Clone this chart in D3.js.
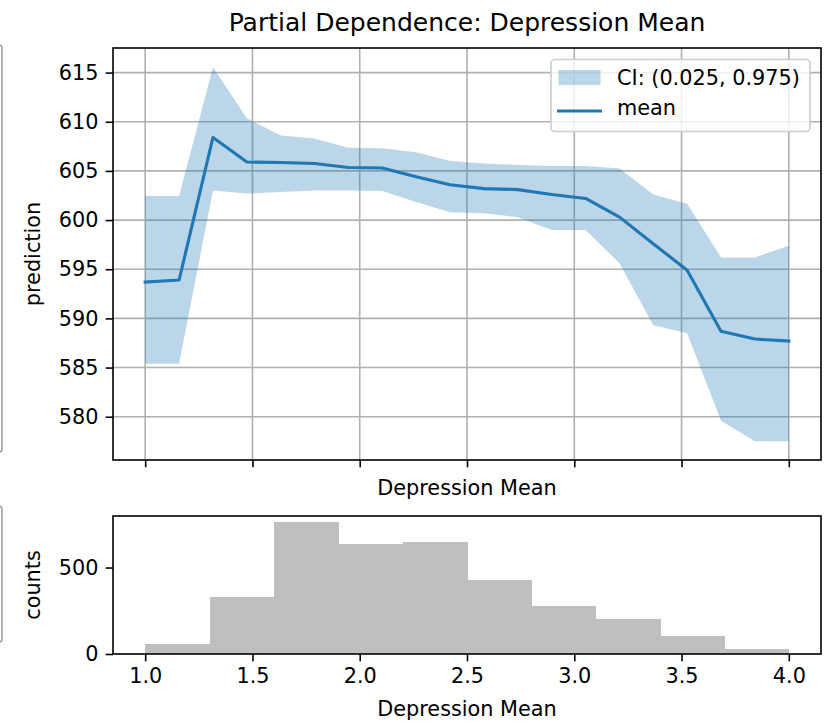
<!DOCTYPE html>
<html>
<head>
<meta charset="utf-8">
<script src="https://cdn.jsdelivr.net/npm/d3@7"></script>
<style>
  html, body { margin: 0; padding: 0; background: #fff; }
  svg { display: block; font-family: "DejaVu Sans", sans-serif; }
</style>
</head>
<body>
<svg id="chart" width="836" height="722"></svg>
<script>
// ---- data ----
const gridX = [1.0, 1.158, 1.316, 1.474, 1.632, 1.789, 1.947, 2.105, 2.263, 2.421,
               2.579, 2.737, 2.895, 3.053, 3.211, 3.368, 3.526, 3.684, 3.842, 4.0];
const meanVals = [593.7, 593.9, 608.4, 605.9, 605.85, 605.75, 605.35, 605.3, 604.4, 603.6,
                  603.2, 603.1, 602.6, 602.2, 600.3, 597.6, 594.9, 588.7, 587.9, 587.7];
const upperVals = [602.45, 602.45, 615.55, 610.35, 608.6, 608.3, 607.35, 607.3, 606.9, 606.0,
                   605.75, 605.6, 605.5, 605.5, 605.25, 602.6, 601.65, 596.2, 596.2, 597.4];
const lowerVals = [585.4, 585.4, 603.0, 602.7, 602.85, 603.0, 603.0, 602.95, 601.85, 600.8,
                   600.7, 600.3, 599.0, 599.0, 595.6, 589.3, 588.5, 579.6, 577.5, 577.5];
const binEdges = [1.0, 1.3, 1.6, 1.9, 2.2, 2.5, 2.8, 3.1, 3.4, 3.7, 4.0];
const binCounts = [56, 327, 761, 636, 648, 429, 275, 200, 106, 27];
const xTicks = [1.0, 1.5, 2.0, 2.5, 3.0, 3.5, 4.0];
const yTicksTop = [580, 585, 590, 595, 600, 605, 610, 615];
const yTicksHist = [0, 500];
const titleText = "Partial Dependence: Depression Mean";
const xLabelText = "Depression Mean";
const legendLabels = ["CI: (0.025, 0.975)", "mean"];

// ---- layout ----
const svg = d3.select("#chart");
const L = 113, R = 821;
const topT = 48, topB = 460;
const hT = 516, hB = 654;
const fs = 20.8;
const blue = "#1f77b4";

const x = d3.scaleLinear().domain([0.85, 4.15]).range([L, R]);
const yTop = d3.scaleLinear().domain([575.6, 617.5]).range([topB, topT]);
const yHist = d3.scaleLinear().domain([0, 798]).range([hB, hT]);

// left-edge frame fragments
svg.append("rect").attr("x", -10).attr("y", 45).attr("width", 12).attr("height", 407)
  .attr("rx", 3).attr("fill", "none").attr("stroke", "#9a9a9a").attr("stroke-width", 1.5);
svg.append("rect").attr("x", -10).attr("y", 506).attr("width", 12).attr("height", 136)
  .attr("rx", 3).attr("fill", "none").attr("stroke", "#9a9a9a").attr("stroke-width", 1.5);

// ---- top panel ----
const gTop = svg.append("g");
// grid
gTop.append("g").selectAll("line.gx").data(xTicks).join("line")
  .attr("x1", d => x(d)).attr("x2", d => x(d)).attr("y1", topT).attr("y2", topB)
  .attr("stroke", "#b0b0b0").attr("stroke-width", 1.6);
gTop.append("g").selectAll("line.gy").data(yTicksTop).join("line")
  .attr("x1", L).attr("x2", R).attr("y1", d => yTop(d)).attr("y2", d => yTop(d))
  .attr("stroke", "#b0b0b0").attr("stroke-width", 1.6);

const pts = gridX.map((gx, i) => ({x: gx, m: meanVals[i], lo: lowerVals[i], hi: upperVals[i]}));
const area = d3.area().x(d => x(d.x)).y0(d => yTop(d.lo)).y1(d => yTop(d.hi));
gTop.append("path").datum(pts).attr("d", area).attr("fill", blue).attr("fill-opacity", 0.3);
const line = d3.line().x(d => x(d.x)).y(d => yTop(d.m));
gTop.append("path").datum(pts).attr("d", line).attr("fill", "none")
  .attr("stroke", blue).attr("stroke-width", 3.1).attr("stroke-linejoin", "round").attr("stroke-linecap", "square");

// axes
const axYTop = d3.axisLeft(yTop).tickValues(yTicksTop).tickSize(7.3).tickPadding(7.3).tickFormat(d3.format("d"));
const gyT = gTop.append("g").attr("transform", `translate(${L},0)`).call(axYTop);
const axXTop = d3.axisBottom(x).tickValues(xTicks).tickSize(7.3).tickFormat("");
const gxT = gTop.append("g").attr("transform", `translate(0,${topB})`).call(axXTop);
[gyT, gxT].forEach(g => {
  g.select(".domain").remove();
  g.selectAll(".tick line").attr("stroke", "#000").attr("stroke-width", 1.6);
  g.selectAll(".tick text").attr("font-size", fs).attr("fill", "#000").attr("font-family", "DejaVu Sans");
});
gTop.append("rect").attr("x", L).attr("y", topT).attr("width", R - L).attr("height", topB - topT)
  .attr("fill", "none").attr("stroke", "#000").attr("stroke-width", 1.6);

// legend
const lg = gTop.append("g");
lg.append("rect").attr("x", 551).attr("y", 59.5).attr("width", 259).attr("height", 72).attr("rx", 4)
  .attr("fill", "#fff").attr("fill-opacity", 0.8).attr("stroke", "#cccccc").attr("stroke-width", 1.6);
lg.append("rect").attr("x", 558.5).attr("y", 70).attr("width", 42).attr("height", 15)
  .attr("fill", blue).attr("fill-opacity", 0.3);
lg.append("line").attr("x1", 557).attr("x2", 602).attr("y1", 111).attr("y2", 111)
  .attr("stroke", blue).attr("stroke-width", 3.1);
lg.selectAll("text").data(legendLabels).join("text")
  .attr("x", 617).attr("y", (d, i) => 85 + i * 30).attr("font-size", fs).attr("fill", "#000")
  .text(d => d);

// title & labels
svg.append("text").attr("x", (L + R) / 2).attr("y", 31).attr("text-anchor", "middle")
  .attr("font-size", 25).attr("fill", "#000").text(titleText);
svg.append("text").attr("x", (L + R) / 2).attr("y", 495).attr("text-anchor", "middle")
  .attr("font-size", fs).attr("fill", "#000").text(xLabelText);
svg.append("text").attr("transform", `translate(40,${(topT + topB) / 2}) rotate(-90)`)
  .attr("text-anchor", "middle").attr("font-size", fs).attr("fill", "#000").text("prediction");

// ---- histogram panel ----
const gH = svg.append("g");
const bins = binCounts.map((c, i) => ({x0: binEdges[i], x1: binEdges[i + 1], c}));
gH.selectAll("rect.bar").data(bins).join("rect")
  .attr("x", d => x(d.x0)).attr("width", d => x(d.x1) - x(d.x0) + 0.6)
  .attr("y", d => yHist(d.c)).attr("height", d => yHist(0) - yHist(d.c))
  .attr("fill", "#bfbfbf").attr("shape-rendering", "crispEdges");
const axYH = d3.axisLeft(yHist).tickValues(yTicksHist).tickSize(7.3).tickPadding(7.3).tickFormat(d3.format("d"));
const gyH = gH.append("g").attr("transform", `translate(${L},0)`).call(axYH);
const axXH = d3.axisBottom(x).tickValues(xTicks).tickSize(7.3).tickPadding(7.3).tickFormat(d3.format(".1f"));
const gxH = gH.append("g").attr("transform", `translate(0,${hB})`).call(axXH);
[gyH, gxH].forEach(g => {
  g.select(".domain").remove();
  g.selectAll(".tick line").attr("stroke", "#000").attr("stroke-width", 1.6);
  g.selectAll(".tick text").attr("font-size", fs).attr("fill", "#000").attr("font-family", "DejaVu Sans");
});
gH.append("rect").attr("x", L).attr("y", hT).attr("width", R - L).attr("height", hB - hT)
  .attr("fill", "none").attr("stroke", "#000").attr("stroke-width", 1.6);
svg.append("text").attr("x", (L + R) / 2).attr("y", 716).attr("text-anchor", "middle")
  .attr("font-size", fs).attr("fill", "#000").text(xLabelText);
svg.append("text").attr("transform", `translate(40,${(hT + hB) / 2}) rotate(-90)`)
  .attr("text-anchor", "middle").attr("font-size", fs).attr("fill", "#000").text("counts");
</script>
</body>
</html>
